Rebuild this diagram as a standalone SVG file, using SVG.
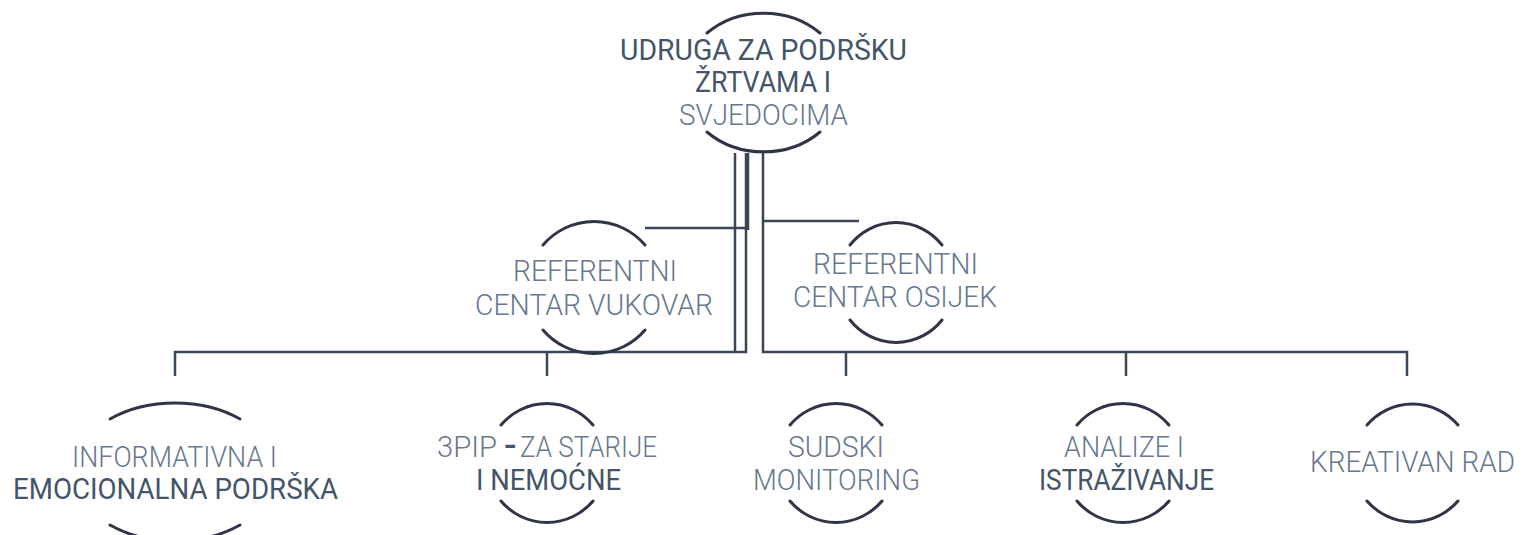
<svg xmlns="http://www.w3.org/2000/svg" width="1531" height="535" viewBox="0 0 1531 535">
<style>
.arc{fill:none;stroke:#2f3547;stroke-width:3;stroke-linecap:round}
.conn{fill:none;stroke:#3a4558;stroke-width:2.5}
.t{font-family:Roboto,"Liberation Sans",sans-serif;font-size:30px}
.lt{font-weight:300;fill:#66778f}
.dk{font-weight:400;fill:#44546a}
</style>
<rect width="1531" height="535" fill="#ffffff"/>
<g id="connectors">
<path class="conn" d="M735,153 V352"/>
<path class="conn" d="M747,153 V230" style="stroke-width:4.5"/>
<path class="conn" d="M645,228 H746 V352 H175 V376"/>
<path class="conn" d="M547,352 V376"/>
<path class="conn" d="M763,153 V352 H1407 V376"/>
<path class="conn" d="M763,221 H859"/>
<path class="conn" d="M846,352 V376"/>
<path class="conn" d="M1126,352 V376"/>
</g>
<g id="node-udruga">
<path class="arc" d="M707,33 A80.6,69.2 0 0 1 820,33"/>
<path class="arc" d="M707,132 A80.6,69.2 0 0 0 820,132"/>
<text class="t dk" x="620" y="60" textLength="287" lengthAdjust="spacingAndGlyphs">UDRUGA ZA PODRŠKU</text>
<text class="t dk" x="695" y="92" textLength="136" lengthAdjust="spacingAndGlyphs">ŽRTVAMA I</text>
<text class="t lt" x="679" y="125" textLength="169" lengthAdjust="spacingAndGlyphs">SVJEDOCIMA</text>
</g>
<g id="node-vukovar">
<path class="arc" d="M543,245 A67,67 0 0 1 645,245"/>
<path class="arc" d="M543,330 A67,67 0 0 0 645,330"/>
<text class="t lt" x="513" y="281" textLength="164" lengthAdjust="spacingAndGlyphs">REFERENTNI</text>
<text class="t lt" x="475" y="315" textLength="238" lengthAdjust="spacingAndGlyphs">CENTAR VUKOVAR</text>
</g>
<g id="node-osijek">
<path class="arc" d="M850,245 A59,60 0 0 1 942,245"/>
<path class="arc" d="M850,320 A59,60 0 0 0 942,320"/>
<text class="t lt" x="813" y="274" textLength="165" lengthAdjust="spacingAndGlyphs">REFERENTNI</text>
<text class="t lt" x="793" y="307" textLength="204" lengthAdjust="spacingAndGlyphs">CENTAR OSIJEK</text>
</g>
<g id="node-informativna">
<path class="arc" d="M110,419 A101.5,69 0 0 1 240,419"/>
<path class="arc" d="M110,525 A101.5,69 0 0 0 240,525"/>
<text class="t lt" x="72" y="467" textLength="205" lengthAdjust="spacingAndGlyphs">INFORMATIVNA I</text>
<text class="t dk" x="13" y="499" textLength="325" lengthAdjust="spacingAndGlyphs">EMOCIONALNA PODRŠKA</text>
</g>
<g id="node-3pip">
<path class="arc" d="M501,425 A60,60 0 0 1 593,425"/>
<path class="arc" d="M501,501 A60,60 0 0 0 593,501"/>
<text class="t lt" x="437" y="457" textLength="60" lengthAdjust="spacingAndGlyphs">3PIP</text>
<text class="t dk" x="504" y="457" textLength="12" lengthAdjust="spacingAndGlyphs" style="font-weight:700">–</text>
<text class="t lt" x="520" y="457" textLength="137" lengthAdjust="spacingAndGlyphs">ZA STARIJE</text>
<text class="t dk" x="476" y="490" textLength="145" lengthAdjust="spacingAndGlyphs">I NEMOĆNE</text>
</g>
<g id="node-sudski">
<path class="arc" d="M790,425 A60,60 0 0 1 882,425"/>
<path class="arc" d="M790,501 A60,60 0 0 0 882,501"/>
<text class="t lt" x="788" y="457" textLength="96" lengthAdjust="spacingAndGlyphs">SUDSKI</text>
<text class="t lt" x="753" y="490" textLength="167" lengthAdjust="spacingAndGlyphs">MONITORING</text>
</g>
<g id="node-analize">
<path class="arc" d="M1077,425 A60,60 0 0 1 1169,425"/>
<path class="arc" d="M1077,501 A60,60 0 0 0 1169,501"/>
<text class="t lt" x="1064" y="457" textLength="120" lengthAdjust="spacingAndGlyphs">ANALIZE I</text>
<text class="t dk" x="1039" y="490" textLength="175" lengthAdjust="spacingAndGlyphs">ISTRAŽIVANJE</text>
</g>
<g id="node-kreativan">
<path class="arc" d="M1367,425 A60,60 0 0 1 1458,425"/>
<path class="arc" d="M1367,501 A60,60 0 0 0 1458,501"/>
<text class="t lt" x="1310" y="472" textLength="205" lengthAdjust="spacingAndGlyphs">KREATIVAN RAD</text>
</g>
</svg>
